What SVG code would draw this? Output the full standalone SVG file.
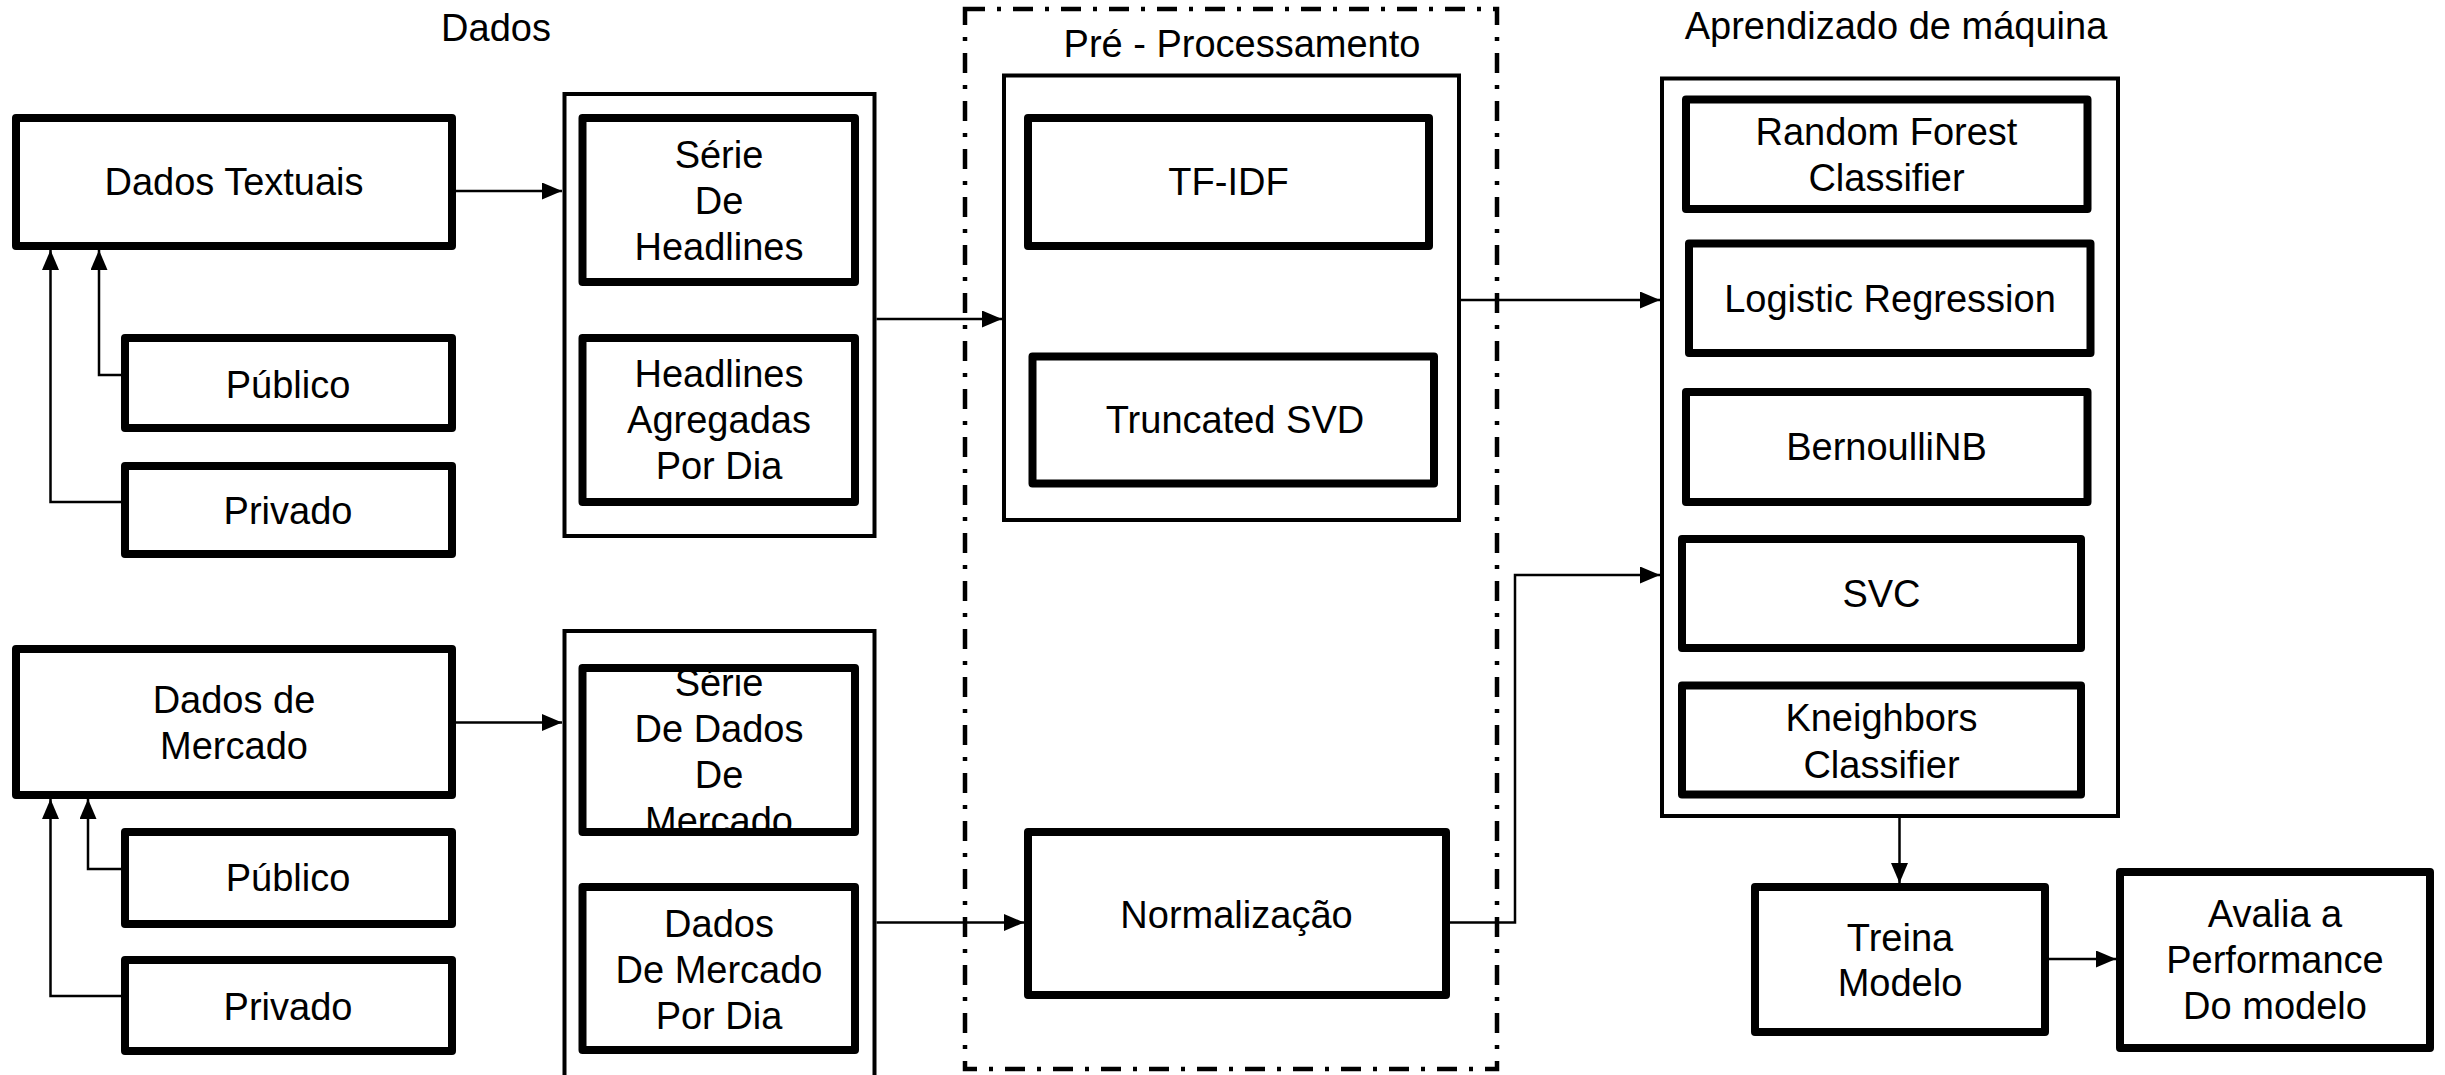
<svg xmlns="http://www.w3.org/2000/svg" width="2445" height="1075" viewBox="0 0 2445 1075">
<style>
text{font-family:"Liberation Sans",Arial,sans-serif;font-size:38px;fill:#000;text-anchor:middle}
.n{fill:#fff;stroke:#000;stroke-width:8;stroke-linejoin:round}
.nb{fill:none;stroke:#000;stroke-width:8;stroke-linejoin:round}
.g{fill:#fff;stroke:#000;stroke-width:4}
.d{fill:none;stroke:#000;stroke-width:4.5;stroke-dasharray:20 12 4 12}
.c{fill:none;stroke:#000;stroke-width:2.5}
</style>
<defs>
<marker id="ah" markerUnits="userSpaceOnUse" markerWidth="20" markerHeight="17" refX="20" refY="8.5" orient="auto">
<path d="M0,0 L20,8.5 L0,17 z" fill="#000"/>
</marker>
</defs>
<rect width="2445" height="1075" fill="#fff"/>

<g id="titles">
<text x="496" y="41">Dados</text>
<text x="1242" y="57">Pré - Processamento</text>
<text x="1896" y="39">Aprendizado de máquina</text>
</g>

<g id="preprocessamento-area"><rect class="d" x="965" y="9" width="532" height="1060"/></g>

<g id="grupo-headlines"><rect class="g" x="564.5" y="94" width="310" height="442"/></g>
<g id="grupo-mercado"><rect class="g" x="564.5" y="631" width="310" height="470"/></g>
<g id="grupo-texto-proc"><rect class="g" x="1004" y="75.5" width="455" height="444.5"/></g>
<g id="grupo-ml"><rect class="g" x="1662" y="78.5" width="456" height="737.5"/></g>

<g id="connectors" class="c">
<path class="c" d="M456,191 H562" marker-end="url(#ah)"/>
<path class="c" d="M121,375 H99 V250" marker-end="url(#ah)"/>
<path class="c" d="M121,502 H50.5 V250" marker-end="url(#ah)"/>
<path class="c" d="M456,722.5 H562" marker-end="url(#ah)"/>
<path class="c" d="M121,869 H88 V799" marker-end="url(#ah)"/>
<path class="c" d="M121,996 H50.5 V799" marker-end="url(#ah)"/>
<path class="c" d="M876.5,319 H1002" marker-end="url(#ah)"/>
<path class="c" d="M1461,300 H1660" marker-end="url(#ah)"/>
<path class="c" d="M876.5,922.5 H1024" marker-end="url(#ah)"/>
<path class="c" d="M1450,922.5 H1515 V575 H1660" marker-end="url(#ah)"/>
<path class="c" d="M1899.5,818 V883" marker-end="url(#ah)"/>
<path class="c" d="M2049,959 H2116" marker-end="url(#ah)"/>
</g>

<g id="dados-textuais"><rect class="n" x="16" y="118" width="436" height="128"/><text x="234" y="195">Dados Textuais</text></g>
<g id="publico-1"><rect class="n" x="125" y="338" width="327" height="90"/><text x="288" y="398">Público</text></g>
<g id="privado-1"><rect class="n" x="125" y="466" width="327" height="88"/><text x="288" y="524">Privado</text></g>
<g id="dados-mercado"><rect class="n" x="16" y="649" width="436" height="146"/><text x="234" y="713">Dados de</text><text x="234" y="759">Mercado</text></g>
<g id="publico-2"><rect class="n" x="125" y="832" width="327" height="92"/><text x="288" y="891">Público</text></g>
<g id="privado-2"><rect class="n" x="125" y="960" width="327" height="91"/><text x="288" y="1020">Privado</text></g>

<g id="serie-headlines"><rect class="n" x="582.5" y="118" width="272.5" height="164"/><text x="719" y="168">Série</text><text x="719" y="214">De</text><text x="719" y="260">Headlines</text></g>
<g id="headlines-agregadas"><rect class="n" x="582.5" y="338" width="272.5" height="164"/><text x="719" y="387">Headlines</text><text x="719" y="433">Agregadas</text><text x="719" y="479">Por Dia</text></g>
<g id="serie-mercado"><rect x="582.5" y="668" width="272.5" height="164" fill="#fff"/><text x="719" y="696">Série</text><text x="719" y="742">De Dados</text><text x="719" y="788">De</text><text x="719" y="834">Mercado</text><rect class="nb" x="582.5" y="668" width="272.5" height="164"/></g>
<g id="mercado-por-dia"><rect class="n" x="582.5" y="887" width="272.5" height="163"/><text x="719" y="937">Dados</text><text x="719" y="983">De Mercado</text><text x="719" y="1029">Por Dia</text></g>

<g id="tf-idf"><rect class="n" x="1028" y="118" width="401" height="128"/><text x="1228.5" y="195">TF-IDF</text></g>
<g id="truncated-svd"><rect class="n" x="1032.5" y="356.5" width="401.5" height="127"/><text x="1235" y="433">Truncated SVD</text></g>
<g id="normalizacao"><rect class="n" x="1028" y="832" width="418" height="163"/><text x="1236.5" y="928">Normalização</text></g>

<g id="random-forest"><rect class="n" x="1686" y="99.5" width="401.5" height="109.5"/><text x="1886.5" y="145">Random Forest</text><text x="1886.5" y="191">Classifier</text></g>
<g id="logistic-regression"><rect class="n" x="1689" y="243.5" width="401.5" height="109.5"/><text x="1890" y="311.5">Logistic Regression</text></g>
<g id="bernoullinb"><rect class="n" x="1686" y="392" width="401.5" height="110"/><text x="1886.5" y="460">BernoulliNB</text></g>
<g id="svc"><rect class="n" x="1682" y="539" width="399" height="109"/><text x="1881.5" y="607">SVC</text></g>
<g id="kneighbors"><rect class="n" x="1682" y="685.5" width="399" height="109"/><text x="1881.5" y="731">Kneighbors</text><text x="1881.5" y="777.5">Classifier</text></g>

<g id="treina-modelo"><rect class="n" x="1755" y="887" width="290" height="145"/><text x="1900" y="951">Treina</text><text x="1900" y="996">Modelo</text></g>
<g id="avalia"><rect class="n" x="2120" y="872" width="310" height="176"/><text x="2275" y="927">Avalia a</text><text x="2275" y="972.5">Performance</text><text x="2275" y="1018.5">Do modelo</text></g>
</svg>
